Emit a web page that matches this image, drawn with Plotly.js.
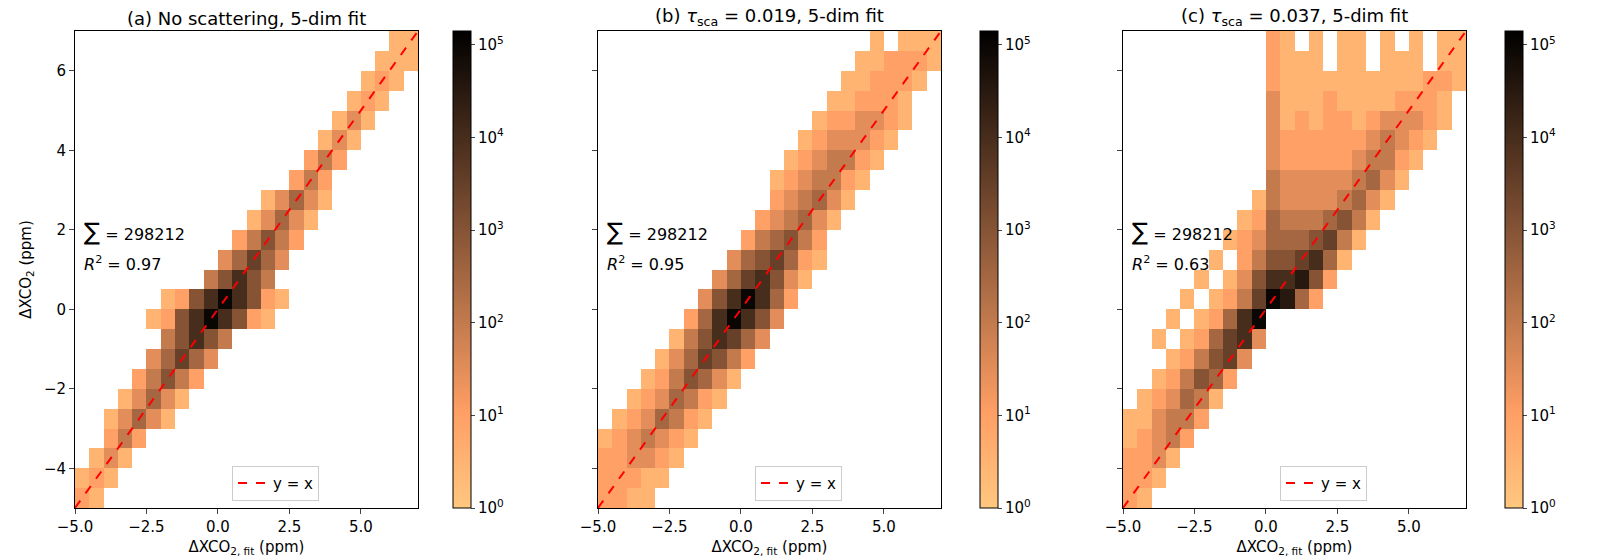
<!DOCTYPE html>
<html>
<head>
<meta charset="utf-8">
<script src="https://cdn.plot.ly/plotly-3.0.1.min.js"></script>
<style>body{margin:0;background:#fff}</style>
</head>
<body>
<div id="chart" style="width:1617px;height:560px"></div>
<script>
// bin centres (ppm)
const xCenters = [-4.75,-4.25,-3.75,-3.25,-2.75,-2.25,-1.75,-1.25,-0.75,-0.25,0.25,0.75,
                  1.25,1.75,2.25,2.75,3.25,3.75,4.25,4.75,5.25,5.75,6.25,6.75];
const yCenters = [6.75,6.25,5.75,5.25,4.75,4.25,3.75,3.25,2.75,2.25,1.75,1.25,
                  0.75,0.25,-0.25,-0.75,-1.25,-1.75,-2.25,-2.75,-3.25,-3.75,-4.25,-4.75];

// histogram rows, top to bottom; char = 2*log10(count), 'a' = 10, '.' = empty
const histA = [
  "......................11", ".....................111", "....................121.", "...................121..",
  "..................131...", ".................131....", "................242.....", "...............242......",
  ".............13531......", "............13531.......", "...........24642........", "..........35753.........",
  ".........46864..........", "......1268a8621.........", ".....1268a8621..........", "......46864.............",
  ".....35753..............", "....24642...............", "...13531................", "..13531.................",
  "..242...................", ".131....................", "121.....................", "21......................"
];
const histB = [
  "...................1.111", "..................112221", ".................112221.", "................112221..",
  "...............1223321..", "..............1233321...", ".............1234421....", "............1234421.....",
  "............234531......", "...........234531.......", "..........245642........", ".........3567521........",
  "........3578631.........", ".......368a852..........", "......258a863...........", ".....1468753............",
  "....1357642.............", "...1246531..............", "..1235421...............", ".1235421................",
  "1234321.................", "223321..................", "22211...................", "2211...................."
];
const histC = [
  "..........21.1.11.1.1.11", "..........2111.11.111.11", "..........21111111111221", "..........3111211112221.",
  "..........3121221233321.", "..........322222234321..", "..........32222234421...", "..........4333334531....",
  ".........1433334531.....", "........1254445641......", ".......1235556741.......", "......1.24667851........",
  ".....1.13688962.........", "....1.1247a952..........", "...1.1258a..............", "..1.125783..............",
  "...124673...............", "..124652................", ".123541.................", "113442..................",
  "12342...................", "2231....................", "221.....................", "21......................"
];

const titles = ['(a) No scattering, 5-dim fit',
                '(b) <i>τ</i><sub>sca</sub> = 0.019, 5-dim fit',
                '(c) <i>τ</i><sub>sca</sub> = 0.037, 5-dim fit'];
const totals = [298212, 298212, 298212];
const r2 = ['0.97', '0.95', '0.63'];
const cbTicks = [0, 1, 2, 3, 4, 5];
const cbLabels = ['10<sup>0</sup>','10<sup>1</sup>','10<sup>2</sup>','10<sup>3</sup>','10<sup>4</sup>','10<sup>5</sup>'];

const copperR = [
  [0, 'rgb(255,199,127)'], [0.1, 'rgb(255,179,114)'], [0.2, 'rgb(255,159,101)'],
  [0.4, 'rgb(191,120,76)'], [0.6, 'rgb(128,80,51)'], [0.8, 'rgb(64,40,25)'], [1, 'rgb(0,0,0)']
];

function parse(rows) {
  return rows.map(r => r.split('').map(c => c === '.' ? null : (c === 'a' ? 10 : +c) / 2));
}

const domains = [[75/1617, 418/1617], [598/1617, 941/1617], [1123/1617, 1466/1617]];
const cbX = [443/1617, 970/1617, 1495/1617];
const hists = [histA, histB, histC];

const traces = [];
const layout = {
  width: 1617, height: 560,
  paper_bgcolor: '#fff', plot_bgcolor: '#fff',
  font: { family: 'DejaVu Sans', color: '#000', size: 15 },
  margin: { t: 31, b: 52, l: 0, r: 0 },
  annotations: [], showlegend: true
};

hists.forEach((h, k) => {
  const n = k === 0 ? '' : String(k + 1);
  traces.push({
    type: 'heatmap', x: xCenters, y: yCenters, z: parse(h),
    xaxis: 'x' + n, yaxis: 'y' + n, colorscale: copperR, zmin: 0, zmax: 5.15,
    showlegend: false, hoverinfo: 'skip',
    colorbar: { x: cbX[k], xanchor: 'left', thickness: 18, len: 1, y: 0.5, yanchor: 'middle', ypad: 0,
      outlinewidth: 1, outlinecolor: '#000', tickvals: cbTicks, ticktext: cbLabels,
      ticks: 'outside', ticklen: 4, tickfont: { size: 15 } }
  });
  traces.push({
    type: 'scatter', mode: 'lines', x: [-5, 7], y: [-5, 7], name: 'y = x',
    xaxis: 'x' + n, yaxis: 'y' + n, legend: 'legend' + n,
    line: { color: 'red', dash: 'dash', width: 2 }
  });
  layout['xaxis' + n] = {
    domain: domains[k], anchor: 'y' + n, range: [-5, 7], tickvals: [-5, -2.5, 0, 2.5, 5],
    tickformat: '.1f', ticks: 'outside', ticklen: 5, showgrid: false, zeroline: false,
    showline: true, mirror: true, linecolor: '#000', tickfont: { size: 15 },
    title: { text: 'ΔXCO<sub>2, fit</sub> (ppm)', font: { size: 15 }, standoff: 6 }
  };
  layout['yaxis' + n] = {
    domain: [0, 1], anchor: 'x' + n, range: [-5, 7], tickvals: [-4, -2, 0, 2, 4, 6],
    showticklabels: k === 0, ticks: 'outside', ticklen: 5, showgrid: false, zeroline: false,
    showline: true, mirror: true, linecolor: '#000', tickfont: { size: 15 },
    title: k === 0 ? { text: 'ΔXCO<sub>2</sub> (ppm)', font: { size: 15 }, standoff: 8 } : { text: '' }
  };
  layout['legend' + n] = {
    x: domains[k][0] + 157/1617, y: 0.015, xanchor: 'left', yanchor: 'bottom',
    bordercolor: '#ccc', borderwidth: 1, bgcolor: 'rgba(255,255,255,0.8)', font: { size: 15 }
  };
  layout.annotations.push({
    xref: 'paper', yref: 'paper', x: (domains[k][0] + domains[k][1]) / 2, y: 1, yanchor: 'bottom',
    xanchor: 'center', text: titles[k], showarrow: false, font: { size: 18 }
  });
  layout.annotations.push({
    xref: 'x' + n, yref: 'y' + n, x: -4.75, y: 1.95, xanchor: 'left',
    text: '<span style="font-size:24px">∑</span> = ' + totals[k], showarrow: false, font: { size: 16 }
  });
  layout.annotations.push({
    xref: 'x' + n, yref: 'y' + n, x: -4.75, y: 1.15, xanchor: 'left',
    text: '<i>R</i><sup>2</sup> = ' + r2[k], showarrow: false, font: { size: 16 }
  });
});

Plotly.newPlot('chart', traces, layout, { displayModeBar: false, staticPlot: true });
</script>
</body>
</html>
